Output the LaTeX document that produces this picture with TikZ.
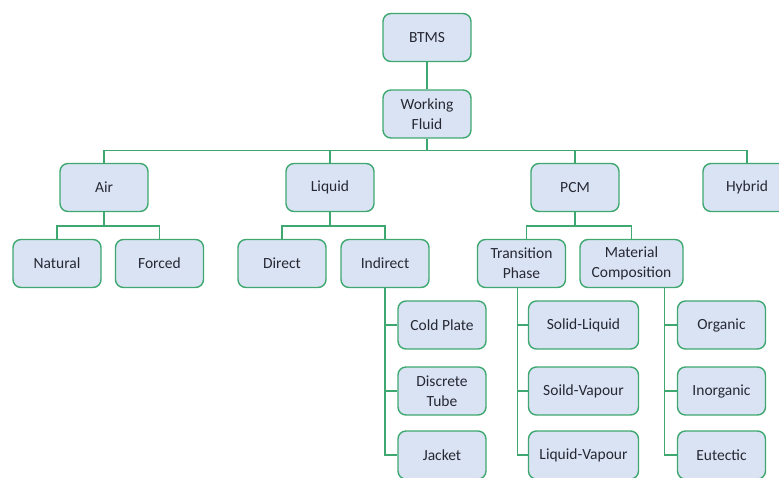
\documentclass[tikz,border=0pt]{standalone}
\usepackage{fontspec}
\setmainfont{Carlito}
\usetikzlibrary{positioning}
\usetikzlibrary{calc}

\definecolor{boxfill}{RGB}{218,227,243}
\definecolor{boxline}{RGB}{62,168,112}
\definecolor{boxtext}{RGB}{38,40,52}

\begin{document}
\begin{tikzpicture}[
    x=1pt, y=-1pt,
    every node/.style={rectangle, rounded corners=8pt, draw=boxline, fill=boxfill,
      line width=1.4pt, text=boxtext, align=center, minimum width=88pt, minimum height=48pt,
      inner sep=2pt, font=\fontsize{15.5}{20}\selectfont},
    wide/.style={minimum width=103pt},
    wider/.style={minimum width=110pt},
    link/.style={draw=boxline, line width=1.4pt}
  ]
  \useasboundingbox (0,0) rectangle (779,477);
  \clip (0,0) rectangle (779,477);

  % top
  \node (btms) at (427,37.5) {BTMS};
  \node (wf) at (427,114) {Working\\Fluid};

  % level 1
  \node (air) at (104,187.5) {Air};
  \node (liquid) at (330,187.5) {Liquid};
  \node (pcm) at (575,187.5) {PCM};
  \node (hybrid) at (747,187.5) {Hybrid};

  % level 2
  \node (natural) at (57,263.5) {Natural};
  \node (forced) at (159.5,263.5) {Forced};
  \node (direct) at (282,263.5) {Direct};
  \node (indirect) at (385,263.5) {Indirect};
  \node (trans) at (521.5,263.5) {Transition\\Phase};
  \node (mat) [wide] at (631.5,263.5) {Material\\Composition};

  % level 3
  \node (cold) at (442,325) {Cold Plate};
  \node (tube) at (442,391) {Discrete\\Tube};
  \node (jacket) at (442,455) {Jacket};
  \node (sl) [wider] at (583.5,325) {Solid-Liquid};
  \node (sv) [wider] at (583.5,391) {Soild-Vapour};
  \node (lv) [wider] at (583.5,455) {Liquid-Vapour};
  \node (organic) at (721.5,325) {Organic};
  \node (inorganic) at (721.5,391) {Inorganic};
  \node (eutectic) at (721.5,455) {Eutectic};

  % connectors
  \coordinate (bus) at ($(wf.south)+(0,12)$);
  \draw[link] (btms) -- (wf);
  \draw[link] (wf.south) -- (bus);
  \draw[link] (air.north) |- (bus) -| (hybrid.north);
  \draw[link] (liquid.north) -- (liquid.north |- bus);
  \draw[link] (pcm.north) -- (pcm.north |- bus);

  \draw[link] (air.south) -- ++(0,14);
  \draw[link] (natural.north) -- ++(0,-13) -| (forced.north);
  \draw[link] (liquid.south) -- ++(0,14);
  \draw[link] (direct.north) -- ++(0,-13) -| (indirect.north);
  \draw[link] (pcm.south) -- ++(0,14);
  \draw[link] ([xshift=5pt]trans.north) -- ++(0,-13) -| (mat.north);

  \coordinate (tk1) at (indirect.south);
  \coordinate (tk2) at ([xshift=-4pt]trans.south);
  \coordinate (tk3) at ([xshift=33pt]mat.south);
  \draw[link] (tk1) |- (jacket.west);
  \draw[link] (tk2) |- (lv.west);
  \draw[link] (tk3) |- (eutectic.west);
  \foreach \n in {cold,tube} \draw[link] (\n.west) -- (\n.west -| tk1);
  \foreach \n in {sl,sv} \draw[link] (\n.west) -- (\n.west -| tk2);
  \foreach \n in {organic,inorganic} \draw[link] (\n.west) -- (\n.west -| tk3);
\end{tikzpicture}
\end{document}
